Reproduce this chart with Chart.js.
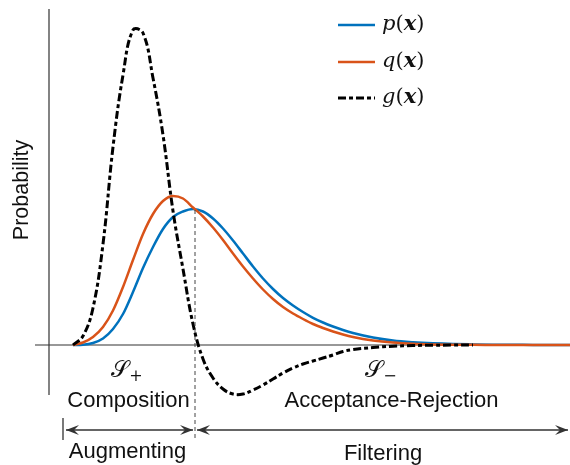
<!DOCTYPE html>
<html>
<head>
<meta charset="utf-8">
<script src="https://cdn.jsdelivr.net/npm/chart.js@4.4.1/dist/chart.umd.min.js"></script>
<style>
  html, body { margin: 0; padding: 0; background: #fff; }
  #wrap { position: relative; width: 570px; height: 465px; }
</style>
</head>
<body>
<div id="wrap"><canvas id="chart"></canvas></div>
<script>
// Sample positions (shared by the three curves)
const xs = [0.5, 0.7, 0.9, 1.1, 1.3, 1.5, 1.7, 1.9, 2.1, 2.3,
            2.5, 2.7, 2.9, 3.1, 3.3, 3.5, 3.7, 3.9, 4.1, 4.3,
            4.5, 4.7, 4.9, 5.1, 5.3, 5.5, 5.7, 5.9, 6.1, 6.5,
            6.9, 7.3, 7.7, 8.1, 8.5, 8.9, 9.3, 9.7, 10.1, 10.5];

// target density p(x)
const pValues = [0, 0.003, 0.02, 0.065, 0.16, 0.31, 0.53, 0.77, 0.98, 1.16,
                 1.28, 1.335, 1.36, 1.335, 1.265, 1.165, 1.045, 0.915, 0.785, 0.665,
                 0.56, 0.47, 0.395, 0.33, 0.272, 0.225, 0.185, 0.15, 0.12, 0.075,
                 0.045, 0.028, 0.017, 0.01, 0.006, 0.003, 0.002, 0.001, 0, 0];

// proposal density q(x)
const qValues = [0, 0.025, 0.08, 0.18, 0.345, 0.58, 0.85, 1.11, 1.31, 1.44,
                 1.49, 1.465, 1.375, 1.285, 1.175, 1.05, 0.915, 0.785, 0.665, 0.555,
                 0.46, 0.38, 0.315, 0.26, 0.21, 0.17, 0.135, 0.105, 0.08, 0.045,
                 0.024, 0.012, 0.006, 0.003, 0.0015, 0.001, 0, 0, 0, 0];

// difference g(x), stops at the end of the tail
const gValues = [0, 0.09, 0.37, 1.01, 1.98, 2.70, 3.15, 3.12, 2.67, 2.10,
                 1.34, 0.76, 0.21, -0.14, -0.33, -0.44, -0.49, -0.49, -0.45, -0.40,
                 -0.34, -0.28, -0.23, -0.19, -0.16, -0.13, -0.10, -0.065, -0.045, -0.025,
                 -0.012, -0.005, -0.002, -0.001, 0, null, null, null, null, null];

const seriesNames = ['p', 'q', 'g'];
const regionLabels = ['Composition', 'Acceptance-Rejection'];
const stageLabels = ['Augmenting', 'Filtering'];
const yAxisTitle = 'Probability';

const BLUE = '#0072BD';
const ORANGE = '#D95319';
const INK = '#111';
const G_DASH = [8, 3, 4, 3];
const SANS = '"Liberation Sans", Arial, sans-serif';
const SERIF = '"DejaVu Serif", serif';

function points(values) {
    return xs.map((x, i) => ({ x: x, y: values[i] }));
}

// draws a list of text runs (different fonts) one after another
function drawRuns(ctx, runs, x, y, align) {
    let total = 0;
    runs.forEach(r => {
        ctx.font = r.font;
        total += ctx.measureText(r.text).width;
    });
    let cx = align === 'center' ? x - total / 2 : x;
    ctx.textAlign = 'left';
    runs.forEach(r => {
        ctx.font = r.font;
        ctx.fillText(r.text, cx, y + (r.dy || 0));
        cx += ctx.measureText(r.text).width;
    });
}

function arrowHead(ctx, tipX, tipY, dir) {
    const len = 13, half = 5, notch = 8;
    ctx.beginPath();
    ctx.moveTo(tipX, tipY);
    ctx.lineTo(tipX - dir * len, tipY - half);
    ctx.lineTo(tipX - dir * notch, tipY);
    ctx.lineTo(tipX - dir * len, tipY + half);
    ctx.closePath();
    ctx.fill();
}

function mathLabel(name) {
    return [
        { text: name, font: 'italic 21px ' + SERIF },
        { text: '(', font: '21px ' + SERIF },
        { text: 'x', font: 'bold italic 21px ' + SERIF },
        { text: ')', font: '21px ' + SERIF },
    ];
}

const decorPlugin = {
    id: 'decor',
    beforeDatasetsDraw(chart) {
        const { ctx, scales: { x, y } } = chart;
        ctx.save();
        ctx.strokeStyle = '#333';
        ctx.lineWidth = 1.2;
        ctx.beginPath();
        // horizontal axis
        ctx.moveTo(x.getPixelForValue(-0.26), y.getPixelForValue(0));
        ctx.lineTo(x.right, y.getPixelForValue(0));
        // vertical axis
        ctx.moveTo(x.getPixelForValue(0.02), y.getPixelForValue(3.36));
        ctx.lineTo(x.getPixelForValue(0.02), y.getPixelForValue(-0.5));
        ctx.stroke();
        ctx.restore();
    },
    afterDatasetsDraw(chart) {
        const { ctx, scales: { x, y } } = chart;
        const X = v => x.getPixelForValue(v);
        const Y = v => y.getPixelForValue(v);
        ctx.save();

        // boundary between the two regions
        ctx.strokeStyle = '#444';
        ctx.lineWidth = 1;
        ctx.setLineDash([4, 3]);
        ctx.beginPath();
        ctx.moveTo(X(2.94), Y(1.35));
        ctx.lineTo(X(2.94), Y(-0.95));
        ctx.stroke();
        ctx.setLineDash([]);

        // y title
        ctx.fillStyle = INK;
        ctx.save();
        ctx.translate(X(-0.52), Y(1.55));
        ctx.rotate(-Math.PI / 2);
        ctx.font = '21.5px ' + SANS;
        ctx.textAlign = 'center';
        ctx.textBaseline = 'middle';
        ctx.fillText(yAxisTitle, 0, 0);
        ctx.restore();

        // region names
        ctx.textBaseline = 'alphabetic';
        ctx.textAlign = 'center';
        ctx.font = '22px ' + SANS;
        ctx.fillText(regionLabels[0], X(1.61), Y(-0.62));
        ctx.fillText(regionLabels[1], X(6.87), Y(-0.62));
        ctx.fillText(stageLabels[0], X(1.59), Y(-1.13));
        ctx.fillText(stageLabels[1], X(6.70), Y(-1.15));

        // set symbols
        drawRuns(ctx, [
            { text: '\u{1D4AE}', font: '23px ' + SERIF },
            { text: '+', font: '16px ' + SERIF, dy: 4 },
        ], X(1.58), Y(-0.32), 'center');
        drawRuns(ctx, [
            { text: '\u{1D4AE}', font: '23px ' + SERIF },
            { text: '\u2212', font: '16px ' + SERIF, dy: 4 },
        ], X(6.66), Y(-0.32), 'center');

        // arrows
        const ay = Y(-0.85);
        ctx.strokeStyle = '#333';
        ctx.fillStyle = '#333';
        ctx.lineWidth = 1.3;
        ctx.beginPath();
        ctx.moveTo(X(0.30), Y(-0.73));
        ctx.lineTo(X(0.30), Y(-0.95));
        ctx.moveTo(X(0.36), ay);
        ctx.lineTo(X(2.90), ay);
        ctx.moveTo(X(2.98), ay);
        ctx.lineTo(X(10.40), ay);
        ctx.stroke();
        arrowHead(ctx, X(0.36), ay, -1);
        arrowHead(ctx, X(2.90), ay, 1);
        arrowHead(ctx, X(2.98), ay, -1);
        arrowHead(ctx, X(10.40), ay, 1);

        // legend
        const rows = [3.20, 2.83, 2.47];
        const colors = [BLUE, ORANGE, '#000'];
        rows.forEach((ry, i) => {
            ctx.strokeStyle = colors[i];
            ctx.lineWidth = i === 2 ? 3 : 2.5;
            ctx.setLineDash(i === 2 ? G_DASH : []);
            ctx.beginPath();
            ctx.moveTo(X(5.80), Y(ry));
            ctx.lineTo(X(6.54), Y(ry));
            ctx.stroke();
            ctx.setLineDash([]);
            ctx.fillStyle = INK;
            ctx.textBaseline = 'middle';
            drawRuns(ctx, mathLabel(seriesNames[i]), X(6.68), Y(ry), 'left');
        });

        ctx.restore();
    },
};

const ctxChart = document.getElementById('chart').getContext('2d');
const chart = new Chart(ctxChart, {
    type: 'line',
    data: {
        datasets: [
            {
                label: 'g(x)',
                data: points(gValues),
                borderColor: '#000',
                borderWidth: 3,
                borderDash: G_DASH,
                tension: 0.4,
                order: 0,
            },
            {
                label: 'q(x)',
                data: points(qValues),
                borderColor: ORANGE,
                borderWidth: 2.5,
                cubicInterpolationMode: 'monotone',
                order: 1,
            },
            {
                label: 'p(x)',
                data: points(pValues),
                borderColor: BLUE,
                borderWidth: 2.5,
                cubicInterpolationMode: 'monotone',
                order: 2,
            },
        ],
    },
    options: {
        responsive: true,
        maintainAspectRatio: false,
        animation: false,
        layout: { padding: 0 },
        elements: {
            point: { radius: 0 },
            line: { fill: false },
        },
        plugins: {
            legend: { display: false },
            tooltip: { enabled: false },
        },
        scales: {
            x: { type: 'linear', min: -0.96, max: 10.44, display: false },
            y: { type: 'linear', min: -1.2, max: 3.45, display: false },
        },
    },
    plugins: [decorPlugin],
});
</script>
</body>
</html>
